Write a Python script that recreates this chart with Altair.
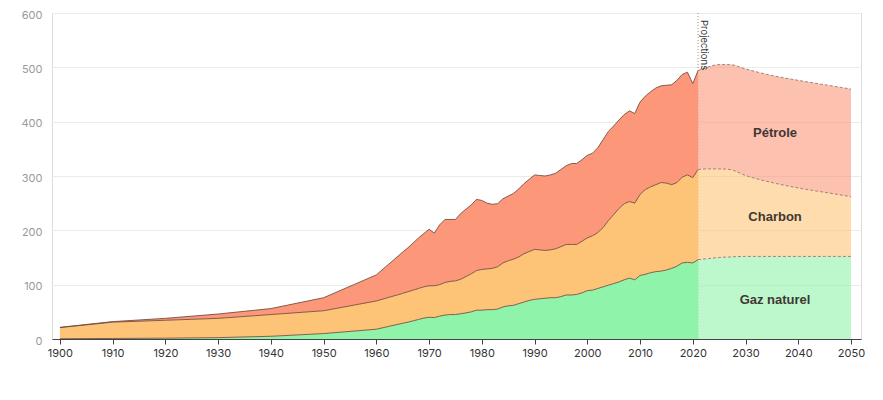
import altair as alt
import pandas as pd

# ---------------- data ----------------
hist_years = [1900, 1910, 1920, 1930, 1940, 1950, 1960,
              1965, 1966, 1967, 1968, 1969, 1970, 1971, 1972, 1973, 1974,
              1975, 1976, 1977, 1978, 1979, 1980, 1981, 1982, 1983, 1984,
              1985, 1986, 1987, 1988, 1989, 1990, 1991, 1992, 1993, 1994,
              1995, 1996, 1997, 1998, 1999, 2000, 2001, 2002, 2003, 2004,
              2005, 2006, 2007, 2008, 2009, 2010, 2011, 2012, 2013, 2014,
              2015, 2016, 2017, 2018, 2019, 2020, 2021]

# cumulative boundaries (gas top, gas+coal top, total top)
gas_top = [0.5, 1, 1.5, 2.5, 5, 10, 18,
           29, 31, 33.5, 36, 38.5, 40, 39.5, 42, 44, 45,
           45, 46.5, 48, 50, 53, 53, 54, 54, 55, 59,
           61, 62, 65, 68, 71, 73, 74, 75, 76, 76,
           78, 81, 81, 82, 85, 89, 90, 93, 96, 99,
           102, 105, 109, 112, 109, 117, 119, 122, 124, 125,
           127, 130, 134, 140, 141, 140, 146]

coal_top = [21, 31, 34.5, 38, 45, 52, 70,
            84, 87, 90, 93, 96, 98, 98, 100, 104, 106,
            107, 110, 115, 120, 126, 128, 129, 130, 133, 140,
            144, 147, 151, 157, 161, 165, 164, 163, 164, 166,
            170, 174, 174, 174, 180, 186, 190, 196, 205, 218,
            229, 240, 249, 253, 250, 266, 275, 280, 284, 288,
            287, 284, 288, 298, 302, 297, 312]

oil_top = [21.5, 32, 38, 46, 56, 76, 118,
           160, 168, 177, 186, 194, 202, 195, 210, 220, 220,
           220, 231, 239, 247, 257, 255, 250, 248, 249, 258,
           263, 268, 276, 286, 294, 302, 301, 300, 302, 305,
           312, 319, 323, 323, 330, 338, 342, 352, 367, 382,
           392, 403, 413, 420, 415, 436, 447, 455, 462, 466,
           467, 468, 476, 487, 491, 470, 494]

proj_years = [2021, 2023, 2025, 2027, 2030, 2035, 2040, 2045, 2050]
gas_top_proj = [146, 148, 150, 151, 152, 152, 152, 152, 152]
coal_top_proj = [312, 313, 313, 312, 301, 288, 278, 270, 262]
oil_top_proj = [494, 501, 505, 505, 497, 485, 476, 468, 460]

fuels = ["Gaz naturel", "Charbon", "Pétrole"]
fuel_colors = ["#8ff4aa", "#fdc477", "#fc9779"]

label_years = [2035.6, 2035.6, 2035.6]
label_values = [72, 224, 379]

projection_year = 2021
projection_text = "Projections"

# ---------------- tables ----------------
def bands(years, g, c, o):
    rows = []
    for i, yr in enumerate(years):
        rows.append({"year": yr, "fuel": fuels[0], "lo": 0, "hi": g[i]})
        rows.append({"year": yr, "fuel": fuels[1], "lo": g[i], "hi": c[i]})
        rows.append({"year": yr, "fuel": fuels[2], "lo": c[i], "hi": o[i]})
    return pd.DataFrame(rows)

hist_df = bands(hist_years, gas_top, coal_top, oil_top)
proj_df = bands(proj_years, gas_top_proj, coal_top_proj, oil_top_proj)
labels_df = pd.DataFrame({"year": label_years, "value": label_values, "fuel": fuels})
rule_df = pd.DataFrame({"year": [projection_year], "top": [600], "bottom": [0],
                        "text": [projection_text]})

x_scale = alt.Scale(domain=[1898.5, 2051.9], nice=False, zero=False)
y_scale = alt.Scale(domain=[0, 600], nice=False)
color_scale = alt.Scale(domain=fuels, range=fuel_colors)

x_axis = alt.Axis(values=list(range(1900, 2051, 10)), format="d", grid=False,
                  domainColor="#444444", tickColor="#444444", tickSize=5,
                  labelColor="#333333", labelFontSize=11, labelPadding=3,
                  title=None, labelFont="Inter")
y_axis = alt.Axis(values=[0, 100, 200, 300, 400, 500, 600], grid=True,
                  gridColor="#ebebeb", domain=False, ticks=False,
                  labelColor="#999999", labelFontSize=11, labelPadding=10,
                  labelOffset=2, title=None, labelFont="Inter")

rule = alt.Chart(rule_df).mark_rule(color="#999999", strokeDash=[1, 2], strokeWidth=1).encode(
    x=alt.X("year:Q", scale=x_scale, axis=x_axis),
    y=alt.Y("top:Q", scale=y_scale, axis=y_axis),
    y2="bottom:Q",
)

rule_text = alt.Chart(rule_df).mark_text(angle=90, align="left", baseline="bottom",
                                          fontSize=9.5, color="#333333", dx=7, dy=-1,
                                          font="Inter").encode(
    x="year:Q", y="top:Q", text="text:N"
)

hist_area = alt.Chart(hist_df).mark_area(interpolate="linear").encode(
    x="year:Q", y="lo:Q", y2="hi:Q",
    color=alt.Color("fuel:N", scale=color_scale, legend=None),
)

proj_area = alt.Chart(proj_df).mark_area(interpolate="monotone", opacity=0.6).encode(
    x="year:Q", y="lo:Q", y2="hi:Q",
    color=alt.Color("fuel:N", scale=color_scale, legend=None),
)

hist_line = alt.Chart(hist_df).mark_line(interpolate="linear", color="#6e4a3c",
                                         strokeWidth=1, opacity=0.85).encode(
    x="year:Q", y="hi:Q", detail="fuel:N"
)

proj_line = alt.Chart(proj_df).mark_line(interpolate="monotone", color="#a08474",
                                         strokeWidth=1, strokeDash=[3, 2]).encode(
    x="year:Q", y="hi:Q", detail="fuel:N"
)

labels = alt.Chart(labels_df).mark_text(fontSize=13, fontWeight="bold",
                                         color="#3f3733", font="Liberation Sans").encode(
    x="year:Q", y="value:Q", text="fuel:N"
)

chart = alt.layer(rule, hist_area, proj_area, hist_line, proj_line, labels, rule_text).properties(
    width=809, height=326,
    padding={"left": 44, "top": 5, "right": 14, "bottom": 40},
    autosize=alt.AutoSizeParams(type="none"),
).configure_view(stroke=None).configure(background="white")

chart.save("out.html", embed_options={"renderer": "svg", "actions": False})
